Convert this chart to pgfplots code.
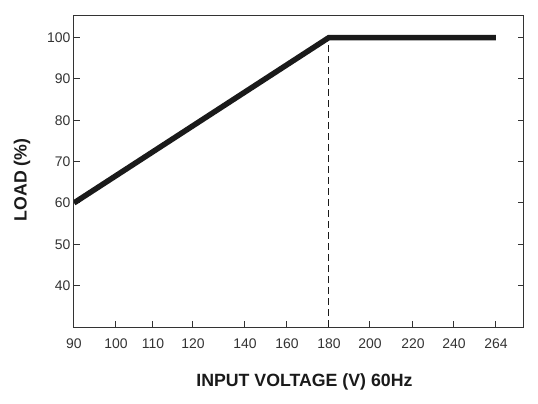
\documentclass[border=0pt]{standalone}
\usepackage{fontspec}
\setmainfont{Liberation Sans}
\usepackage{pgfplots}
\pgfplotsset{compat=1.18}
\definecolor{ink}{HTML}{1A1A1A}
\definecolor{axisgray}{HTML}{333333}
\begin{document}
\begin{tikzpicture}
\begin{axis}[
    scale only axis, width=450bp, height=311bp,
    xmin=0, xmax=450, ymin=30, ymax=105.2,
    % x ticks are unevenly spaced in the original, positions kept as drawn
    xtick={0,42,79,119,171,213,255,296,339,380,422},
    xticklabels={90,100,110,120,140,160,180,200,220,240,264},
    ytick={40,50,...,100},
    xtick pos=bottom, ytick pos=both, yticklabel pos=left,
    tick align=inside, major tick length=6bp,
    axis line style={axisgray, line width=1bp},
    tick style={axisgray, line width=1bp},
    ticklabel style={font=\fontsize{14}{16}\selectfont, text=axisgray},
    xticklabel style={yshift=-8bp},
    /pgf/number format/assume math mode=true,
    xlabel={INPUT VOLTAGE (V) 60Hz}, ylabel={LOAD (\%)},
    label style={font=\fontsize{17.8}{20}\selectfont\bfseries, text=ink},
    xlabel style={at={(axis description cs:0.512,-0.177)}, anchor=center},
    ylabel style={at={(axis description cs:-0.1156,0.473)}, anchor=center},
]
\coordinate (o) at (rel axis cs:0,0);
\addplot[ink, line width=1bp, dash pattern=on 7bp off 4bp] coordinates {(255,30) (255,100)};
\addplot[ink, line width=5.5bp, line join=miter] coordinates {(0,60) (255,100) (422,100)};
\end{axis}
\path (o) ++(-74bp,-77bp) rectangle ++(538bp,404bp);
\end{tikzpicture}
\end{document}
